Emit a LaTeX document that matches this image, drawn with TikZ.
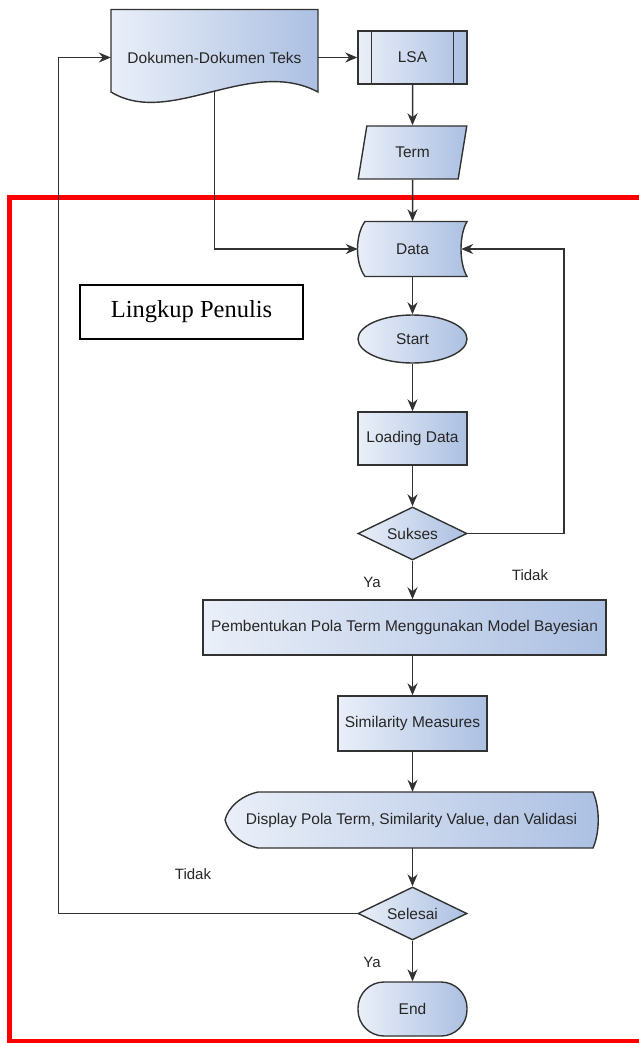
\documentclass[tikz,border=0pt]{standalone}
\usepackage{fontspec}
\setmainfont{Liberation Serif}
\setsansfont{Liberation Sans}
\usetikzlibrary{shapes.geometric,arrows.meta}
\definecolor{flow-light}{RGB}{234,239,248}
\definecolor{flow-dark}{RGB}{172,192,226}
\definecolor{flow-line}{RGB}{50,50,50}
\pgfdeclarelayer{frame}
\pgfdeclarelayer{links}
\pgfdeclarelayer{shapes}
\pgfsetlayers{frame,links,shapes,main}
\tikzset{
    flow-text/.style = {font=\sffamily\fontsize{15.5}{19}\selectfont, text=black!85},
    flow-outline/.style = {left color=flow-light, right color=flow-dark, draw=flow-line, line width=1.4pt},
    flow-box/.style = {flow-text, flow-outline, rectangle, minimum width=109pt, minimum height=53pt, inner sep=2pt},
    flow-term/.style = {flow-text, flow-outline, trapezium, trapezium left angle=75, trapezium right angle=105, trapezium stretches=true, minimum width=109pt, minimum height=53pt, inner sep=1pt},
    flow-start/.style = {flow-text, flow-outline, ellipse, minimum width=109pt, minimum height=48pt, inner sep=1pt},
    flow-decision/.style = {flow-text, flow-outline, diamond, shape aspect=2, minimum width=109pt, minimum height=53pt, inner sep=1pt},
    flow-stop/.style = {flow-box, rounded corners=26pt, minimum height=54pt},
    flow-label/.style = {flow-text, font=\sffamily\fontsize{15}{18}\selectfont},
    flow-arrow/.style = {draw=flow-line, line width=1.5pt, -{Stealth[length=12pt,width=10pt]}},
    lingkup-frame/.style = {draw=red, line width=5pt, line join=miter},
    lingkup-box/.style = {draw=black, line width=1.5pt, font=\fontsize{24.5}{29}\selectfont, minimum width=223pt, minimum height=54pt},
}
\begin{document}
\begin{tikzpicture}[x=1pt,y=-1pt]
\useasboundingbox (0,0) rectangle (639,1043);

% area of the writer's work
\begin{pgfonlayer}{frame}
\draw[lingkup-frame] (660,197) -- (9.5,197) -- (9.5,1041.5) -- (660,1041.5);
\end{pgfonlayer}
\node[lingkup-box] (lingkup) at (191.5,312) {Lingkup Penulis};

% top part
\node[flow-text, minimum width=207pt, minimum height=96pt] (doc) at (214.5,57.5) {Dokumen-Dokumen Teks};
\begin{pgfonlayer}{shapes}
\draw[flow-outline] (111,9.5) -- (318,9.5) -- (318,92) .. controls (250,56) and (170,128) .. (111,92) -- cycle;
\end{pgfonlayer}
\node[flow-box] (lsa) at (412.5,57.5) {LSA};
\draw[draw=flow-line, line width=1.4pt] ([xshift=14pt]lsa.north west) -- ([xshift=14pt]lsa.south west)
    ([xshift=-14pt]lsa.north east) -- ([xshift=-14pt]lsa.south east);
\node[flow-term] (term) at (412.5,152.5) {Term};

% main column
\node[flow-text, minimum width=109pt, minimum height=55pt] (data) at (412.5,249) {Data};
\begin{pgfonlayer}{shapes}
\draw[flow-outline] (365,221.5) -- (467,221.5) .. controls (459,235) and (459,263) .. (467,276.5)
    -- (365,276.5) .. controls (355,263) and (355,235) .. (365,221.5) -- cycle;
\end{pgfonlayer}
\node[flow-start] (start) at (412.5,339) {Start};
\node[flow-box] (load) at (412.5,438.5) {Loading Data};
\node[flow-decision] (sukses) at (412.5,533.5) {Sukses};
\node[flow-box, minimum width=403pt, minimum height=55pt] (pola) at (404.5,627.5) {Pembentukan Pola Term Menggunakan Model Bayesian};
\node[flow-box, minimum width=149pt, minimum height=55pt] (sim) at (412.5,723.5) {Similarity Measures};
\node[flow-text, minimum width=373pt, minimum height=56pt] (disp) at (411.5,820) {Display Pola Term, Similarity Value, dan Validasi};
\begin{pgfonlayer}{shapes}
\draw[flow-outline] (258,792) -- (593,792) .. controls (600,808) and (600,832) .. (593,848) -- (258,848)
    .. controls (240,844) and (228,832) .. (225,820) .. controls (228,808) and (240,796) .. (258,792) -- cycle;
\end{pgfonlayer}
\node[flow-decision] (selesai) at (412.5,913.5) {Selesai};
\node[flow-stop] (stop) at (412.5,1009) {End};

% branch labels
\node[flow-label] (ya-sukses) at (372,582) {Ya};
\node[flow-label] (tidak-sukses) at (530,575) {Tidak};
\node[flow-label] (tidak-selesai) at (193,874) {Tidak};
\node[flow-label] (ya-selesai) at (372,962) {Ya};

\coordinate (loop-right) at (564,249);
\coordinate (loop-left) at (58.5,57.5);

% connectors
\begin{pgfonlayer}{links}
\draw[flow-arrow] (doc.east) -- (lsa.west);
\draw[flow-arrow] (lsa.south) -- (term.north);
\draw[flow-arrow] (term.south) -- (data.north);
\draw[flow-arrow] (doc.center) |- (data.west);
\draw[flow-arrow] (data.south) -- (start.north);
\draw[flow-arrow] (start.south) -- (load.north);
\draw[flow-arrow] (load.south) -- (sukses.north);
\draw[flow-arrow] (sukses.east) -| (loop-right) -- ([xshift=-6pt]data.east);
\draw[flow-arrow] (sukses.south) -- (sukses.south |- pola.north);
\draw[flow-arrow] (sim.north |- pola.south) -- (sim.north);
\draw[flow-arrow] (sim.south) -- (sim.south |- disp.north);
\draw[flow-arrow] (selesai.north |- disp.south) -- (selesai.north);
\draw[flow-arrow] (selesai.south) -- (stop.north);
\draw[flow-arrow] (selesai.west) -| (loop-left) -- (doc.west);
\end{pgfonlayer}
\end{tikzpicture}
\end{document}
